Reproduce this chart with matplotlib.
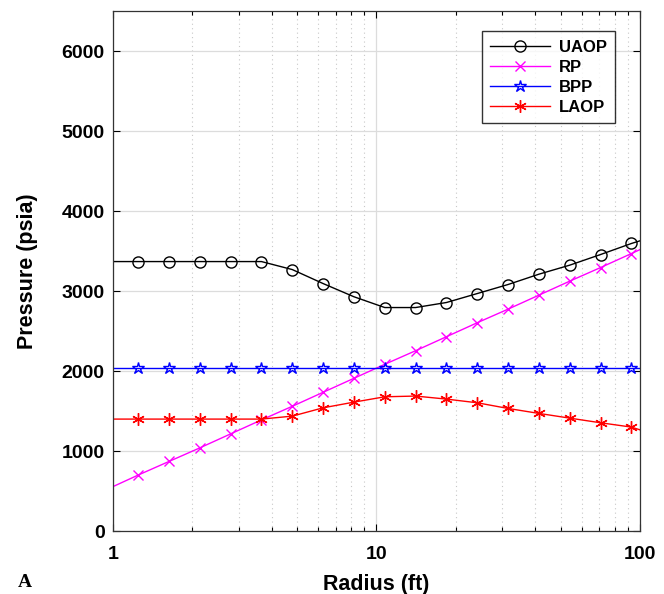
import matplotlib.pyplot as plt
from matplotlib.ticker import LogLocator, NullFormatter, FixedLocator

plt.rcParams['font.family'] = ['Liberation Sans', 'DejaVu Sans']

# radius samples (ft); the first and last only carry the line to the axis edges
radius = [1.0, 1.247, 1.632, 2.137, 2.797, 3.661, 4.792, 6.273, 8.211, 10.75,
          14.07, 18.42, 24.11, 31.56, 41.31, 54.08, 70.79, 92.66, 100.0]

uaop = [3370, 3370, 3370, 3370, 3370, 3370, 3270, 3095, 2930, 2795,
        2795, 2858, 2970, 3083, 3212, 3325, 3458, 3596, 3630]
rp = [555, 700, 870, 1040, 1215, 1390, 1560, 1735, 1910, 2085,
      2255, 2430, 2605, 2775, 2950, 3125, 3295, 3470, 3520]
bpp = [2040] * len(radius)
laop = [1400, 1400, 1400, 1400, 1400, 1400, 1437, 1541, 1612, 1679,
        1688, 1650, 1604, 1533, 1471, 1412, 1354, 1300, 1265]

series = [
    ("UAOP", uaop, "black", "o", 8),
    ("RP", rp, "#ff00ff", "x", 7),
    ("BPP", bpp, "blue", "*", 9),
    ("LAOP", laop, "red", (6, 2, 0), 9),
]

fig = plt.figure(figsize=(6.64, 5.94), dpi=100)
ax = fig.add_axes([0.170, 0.106, 0.794, 0.875])

marks = list(range(1, len(radius) - 1))
for name, vals, col, mk, ms in series:
    ax.plot(radius, vals, color=col, lw=1.0, marker=mk, ms=ms, mfc="none",
            mec=col, mew=1.0, markevery=marks, label=name)

ax.set_xscale("log")
ax.set_xlim(1, 100)
ax.set_ylim(0, 6500)
ax.yaxis.set_major_locator(FixedLocator([0, 1000, 2000, 3000, 4000, 5000, 6000]))
ax.xaxis.set_minor_locator(LogLocator(base=10, subs=range(2, 10)))
ax.xaxis.set_minor_formatter(NullFormatter())
ax.set_xticks([1, 10, 100])
ax.set_xticklabels(["1", "10", "100"])

ax.grid(True, which="major", color="#dcdcdc", lw=0.9)
ax.grid(True, which="minor", axis="x", color="#c8c8c8", lw=0.8, ls=(0, (1, 3)))
ax.set_axisbelow(True)

ax.tick_params(which="both", direction="in", top=True, right=True,
               labelsize=14, width=0.8)
ax.tick_params(which="major", length=5)
ax.tick_params(axis="y", pad=6)
ax.tick_params(axis="x", pad=11)
ax.tick_params(which="minor", length=3)
for lab in ax.get_xticklabels() + ax.get_yticklabels():
    lab.set_fontweight("bold")
for s in ax.spines.values():
    s.set_color("#333333")
    s.set_linewidth(0.9)

ax.set_xlabel("Radius (ft)", fontsize=15.5, fontweight="bold", labelpad=8)
ax.set_ylabel("Pressure (psia)", fontsize=15.5, fontweight="bold", labelpad=17)

leg = ax.legend(loc="upper right", bbox_to_anchor=(0.9526, 0.9615),
                borderaxespad=0, fontsize=12, handlelength=3.6,
                handletextpad=0.5, frameon=True, fancybox=False,
                edgecolor="black", borderpad=0.5, labelspacing=0.3)
leg.get_frame().set_linewidth(1.0)
for t in leg.get_texts():
    t.set_fontweight("bold")

fig.text(0.027, 0.012, "A", family="Liberation Serif", fontweight="bold",
         fontsize=14)

fig.savefig("out.png", dpi=100)
